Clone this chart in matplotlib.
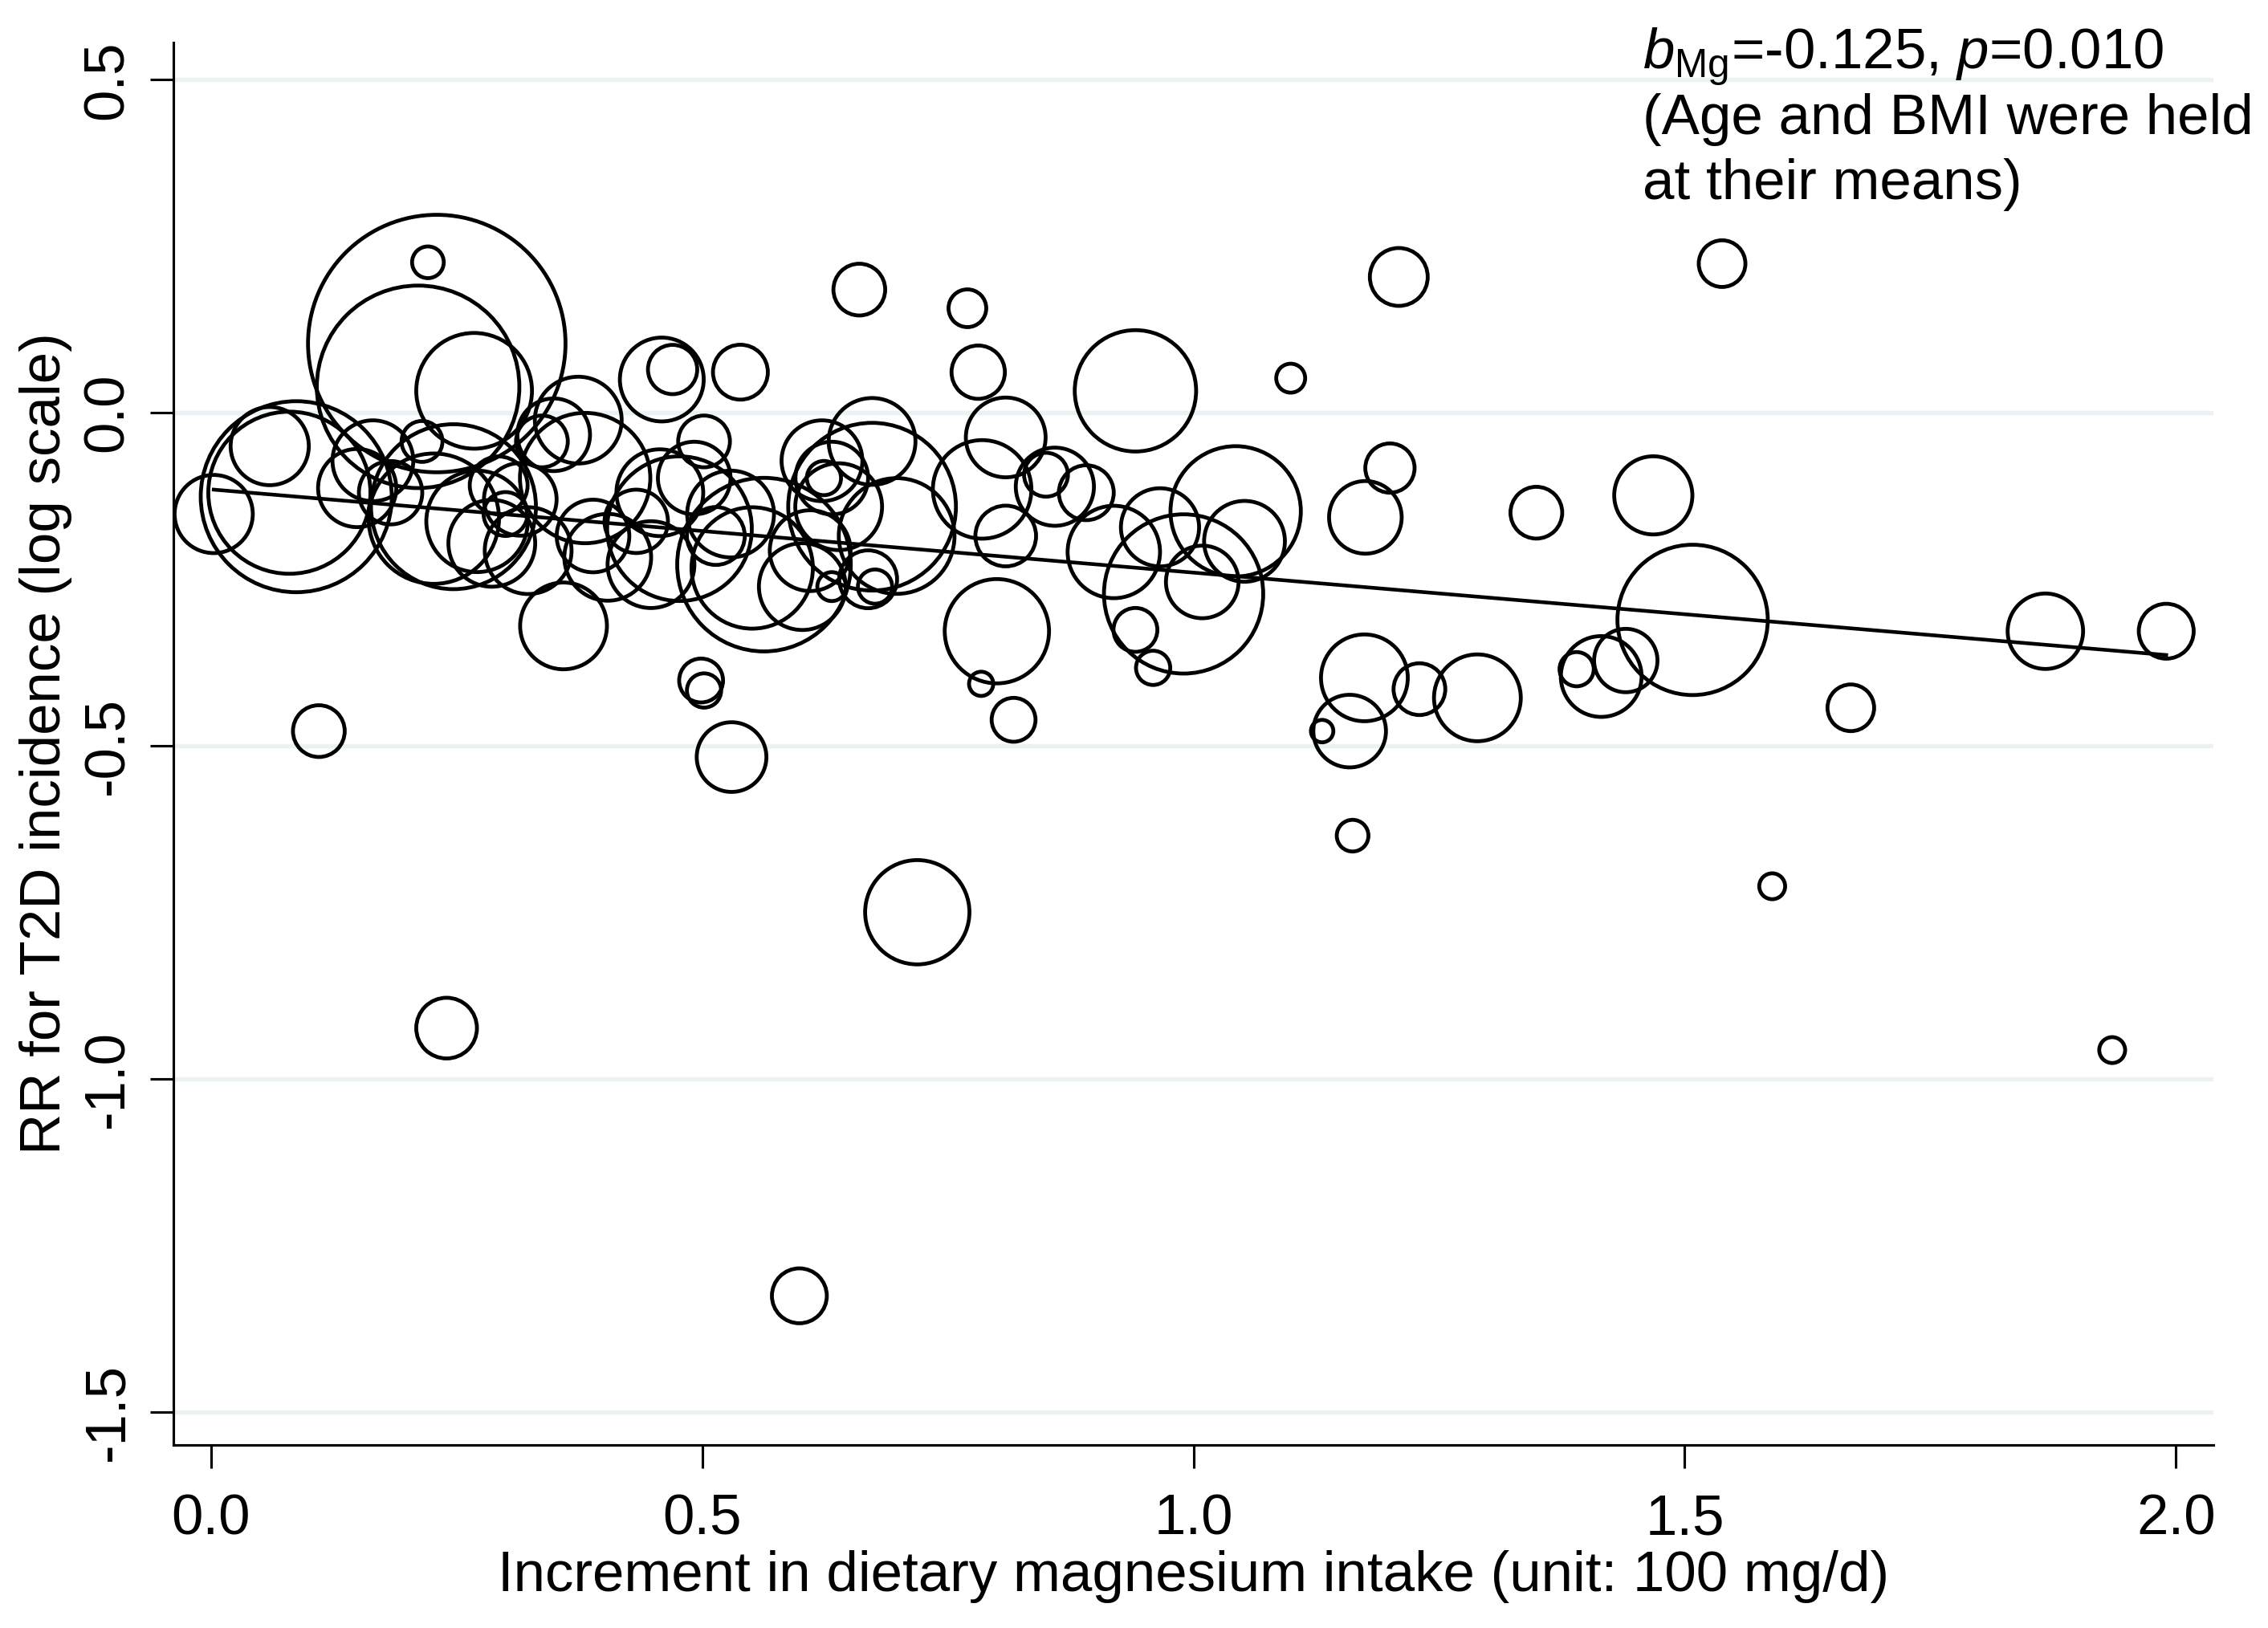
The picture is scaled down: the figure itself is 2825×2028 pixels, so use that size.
import numpy as np
import matplotlib
matplotlib.use("Agg")
import matplotlib.pyplot as plt

# meta-regression bubble plot: dietary Mg increment vs log RR for T2D
plt.rcParams['font.family'] = ['Liberation Sans', 'DejaVu Sans']
plt.rcParams['mathtext.fontset'] = 'custom'
plt.rcParams['mathtext.rm'] = 'Liberation Sans'
plt.rcParams['mathtext.it'] = 'Liberation Sans:italic'

# study estimates
mg_increment = [0.003, 0.087, 0.080, 0.060, 0.149, 0.165, 0.183, 0.215, 0.221, 0.230,
                0.211, 0.268, 0.247, 0.227, 0.271, 0.293, 0.300, 0.286, 0.315, 0.323,
                0.359, 0.337, 0.349, 0.374, 0.381, 0.389, 0.404, 0.433, 0.457, 0.470,
                0.459, 0.502, 0.492, 0.477, 0.448, 0.539, 0.529, 0.514, 0.551, 0.563,
                0.499, 0.502, 0.530, 0.110, 0.240, 0.599, 0.632, 0.622, 0.639, 0.610,
                0.602, 0.673, 0.673, 0.698, 0.669, 0.632, 0.624, 0.660, 0.719, 0.676,
                0.770, 0.781, 0.941, 1.099, 0.809, 0.785, 0.850, 0.859, 0.891, 0.809,
                0.919, 0.966, 1.043, 0.990, 1.009, 1.052, 0.941, 0.959, 0.800, 0.784,
                0.817, 1.209, 1.538, 1.200, 1.175, 1.349, 1.468, 1.508, 1.440, 1.415,
                1.390, 1.289, 1.230, 1.174, 1.159, 1.131, 1.162, 1.589, 1.669, 1.867,
                1.990, 1.935]
log_rr = [-0.152, -0.126, -0.120, -0.050, -0.113, -0.072, -0.120, -0.043, 0.226, 0.104,
          0.039, 0.033, -0.141, -0.159, -0.163, -0.109, -0.152, -0.196, -0.130, -0.207,
          -0.320, -0.043, -0.033, -0.011, -0.098, -0.185, -0.217, -0.163, -0.120, 0.065,
          0.050, -0.043, -0.098, -0.174, -0.228, 0.061, -0.152, -0.185, -0.233, -0.228,
          -0.402, -0.417, -0.517, -0.478, -0.924, -1.326, -0.098, -0.072, -0.141, -0.207,
          -0.261, -0.043, -0.141, -0.185, -0.250, -0.261, -0.098, 0.185, -0.750, -0.261,
          0.157, 0.061, 0.033, 0.052, -0.037, -0.115, -0.093, -0.111, -0.120, -0.185,
          -0.209, -0.172, -0.148, -0.272, -0.254, -0.193, -0.326, -0.383, -0.328, -0.407,
          -0.461, 0.204, 0.224, -0.083, -0.157, -0.150, -0.124, -0.311, -0.372, -0.396,
          -0.385, -0.428, -0.415, -0.398, -0.478, -0.478, -0.635, -0.711, -0.443, -0.328,
          -0.328, -0.957]
weight = [7.3, 43.6, 31.4, 7.3, 7.3, 7.8, 4.8, 2.0, 1.2, 79.2,
          49.0, 16.0, 32.5, 20.3, 12.3, 4.0, 2.3, 9.0, 6.3, 9.0,
          9.0, 3.2, 6.3, 9.0, 20.3, 6.3, 9.0, 4.8, 9.0, 2.9,
          8.4, 3.2, 6.3, 25.0, 9.0, 3.6, 9.0, 4.0, 17.6, 36.0,
          2.3, 1.4, 5.8, 3.2, 4.4, 3.6, 6.3, 7.8, 9.0, 7.8,
          9.0, 9.0, 33.6, 16.0, 4.0, 1.0, 1.4, 3.2, 13.0, 1.4,
          1.7, 3.4, 17.6, 1.0, 7.6, 11.6, 2.3, 7.3, 3.6, 4.4,
          10.2, 7.3, 20.3, 30.3, 6.3, 7.8, 2.3, 1.4, 13.0, 0.7,
          2.3, 4.0, 2.6, 2.9, 6.3, 3.2, 7.3, 27.0, 4.8, 7.8,
          1.4, 9.0, 3.2, 9.0, 6.3, 0.6, 1.2, 0.8, 2.6, 6.8,
          3.6, 0.8]

b_intercept = -0.115
b_mg = -0.125
p_mg = 0.010

x = np.array(mg_increment)
y = np.array(log_rr)
w = np.array(weight)

fig = plt.figure(figsize=(2825 / 300, 2028 / 300), dpi=300)
ax = fig.add_axes([216 / 2825, 1 - 1800 / 2028, (2757 - 216) / 2825, (1800 - 53) / 2028])

# light grid lines at the y ticks
yticks = [0.5, 0.0, -0.5, -1.0, -1.5]
for yt in yticks:
    ax.axhline(yt, color='#EAF2F3', linewidth=1.3, zorder=0)

# bubble area proportional to weight
ax.scatter(x, y, s=w * 74.8, facecolors='none', edgecolors='black', linewidths=1.15, zorder=2)

# fitted meta-regression line
xs = np.array([x.min(), x.max()])
ax.plot(xs, b_intercept + b_mg * xs, color='black', linewidth=1.1, zorder=3)

ax.set_xlim(-0.038, 2.038)
ax.set_ylim(-1.55, 0.556)
ax.set_xticks([0.0, 0.5, 1.0, 1.5, 2.0])
ax.set_xticklabels(['0.0', '0.5', '1.0', '1.5', '2.0'])
ax.set_yticks(yticks)
ax.set_yticklabels(['0.5', '0.0', '-0.5', '-1.0', '-1.5'], rotation=90, va='center')
ax.tick_params(axis='both', direction='out', length=7, width=0.75, labelsize=17)
ax.tick_params(axis='x', pad=7.5)
ax.tick_params(axis='y', pad=4.5)

for side in ['top', 'right']:
    ax.spines[side].set_visible(False)
for side in ['left', 'bottom']:
    ax.spines[side].set_linewidth(0.75)

ax.set_xlabel('Increment in dietary magnesium intake (unit: 100 mg/d)', fontsize=17, labelpad=1)
ax.set_ylabel('RR for T2D incidence (log scale)', fontsize=17, labelpad=3)

# annotation in the upper right
tx = 2046 / 2825
fig.text(tx, 1 - 85 / 2028, r'$\mathit{b}_{\mathrm{Mg}}$=' + f'{b_mg:.3f}, ' + r'$\mathit{p}$=' + f'{p_mg:.3f}',
         fontsize=17, va='baseline', ha='left')
fig.text(tx, 1 - 167 / 2028, '(Age and BMI were held', fontsize=17, va='baseline', ha='left')
fig.text(tx, 1 - 248 / 2028, 'at their means)', fontsize=17, va='baseline', ha='left')

fig.savefig('out.png', dpi=300, facecolor='white')
